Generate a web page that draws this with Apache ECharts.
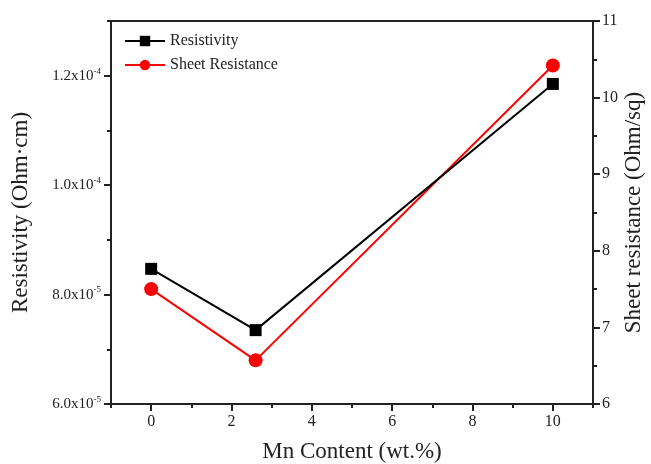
<!DOCTYPE html>
<html><head><meta charset="utf-8">
<script src="https://cdn.jsdelivr.net/npm/echarts@6/dist/echarts.min.js"></script>
<style>html,body{margin:0;padding:0;background:#fff}#c{width:651px;height:464px}</style>
</head><body><div id="c"></div>
<script>
const mnContent = [0, 2.6, 10];
const resistivity = [8.47e-5, 7.35e-5, 1.185e-4];
const sheetResistance = [7.5, 6.57, 10.42];
const xMajorTicks = [0, 2, 4, 6, 8, 10];
const xMinorTicks = [-1, 1, 3, 5, 7, 9, 11];
const leftMajorTicks = [6e-5, 8e-5, 1.0e-4, 1.2e-4];
const leftMinorTicks = [7e-5, 9e-5, 1.1e-4, 1.3e-4];
const rightMajorTicks = [6, 7, 8, 9, 10, 11];
const rightMinorTicks = [6.5, 7.5, 8.5, 9.5, 10.5];

const FONT = '"Liberation Serif", "Times New Roman", serif';
const AX = '#222';
const chart = echarts.init(document.getElementById('c'), null, {renderer: 'canvas'});

function sciLabel(v) {
  const e = Math.floor(Math.log10(v) + 1e-9);
  const m = (v / Math.pow(10, e)).toFixed(1);
  return '{b|' + m + 'x10}{s|' + e + '}';
}
const richSci = {
  b: {fontFamily: FONT, fontSize: 15, color: '#222'},
  s: {fontFamily: FONT, fontSize: 9, color: '#222', padding: [0, 0, 9, 0]}
};

const xBase = {type: 'value', min: -1, max: 11, gridIndex: 0, position: 'bottom'};
const leftBase = {type: 'value', min: 6e-5, max: 1.3e-4, position: 'left'};
const rightBase = {type: 'value', min: 6, max: 11, position: 'right'};

chart.setOption({
  backgroundColor: '#fff',
  animation: false,
  grid: {left: 111, right: 58, top: 21, bottom: 60, outerBoundsMode: 'none', containLabel: false,
         show: true, borderColor: AX, borderWidth: 2, backgroundColor: 'transparent'},
  legend: {
    orient: 'vertical', left: 119, top: 28, itemWidth: 40, itemHeight: 13, itemGap: 8,
    textStyle: {fontFamily: FONT, fontSize: 16, color: '#222'},
    data: ['Resistivity', 'Sheet Resistance']
  },
  xAxis: [
    Object.assign({}, xBase, {
      name: 'Mn Content (wt.%)', nameLocation: 'middle', nameGap: 36, nameMoveOverlap: false,
      nameTextStyle: {fontFamily: FONT, fontSize: 23, color: '#222'},
      axisLine: {show: true, onZero: false, lineStyle: {color: AX, width: 2}},
      axisTick: {show: true, customValues: xMajorTicks, length: 7, inside: false, lineStyle: {color: AX, width: 2}},
      axisLabel: {customValues: xMajorTicks, fontFamily: FONT, fontSize: 16, color: '#222', margin: 10},
      splitLine: {show: false}
    }),
    Object.assign({}, xBase, {
      axisLine: {show: false, onZero: false},
      axisTick: {show: true, customValues: xMinorTicks, length: 4, lineStyle: {color: AX, width: 2}},
      axisLabel: {show: false},
      splitLine: {show: false}
    })
  ],
  yAxis: [
    Object.assign({}, leftBase, {
      name: 'Resistivity (Ohm\u00b7cm)', nameLocation: 'middle', nameGap: 79, nameRotate: 90, nameMoveOverlap: false,
      nameTextStyle: {fontFamily: FONT, fontSize: 23, color: '#222'},
      axisLine: {show: true, onZero: false, lineStyle: {color: AX, width: 2}},
      axisTick: {show: true, customValues: leftMajorTicks, length: 7, lineStyle: {color: AX, width: 2}},
      axisLabel: {customValues: leftMajorTicks, formatter: sciLabel, rich: richSci, margin: 10},
      splitLine: {show: false}
    }),
    Object.assign({}, rightBase, {
      name: 'Sheet resistance (Ohm/sq)', nameLocation: 'middle', nameGap: 29, nameRotate: 90, nameMoveOverlap: false,
      nameTextStyle: {fontFamily: FONT, fontSize: 23, color: '#222'},
      axisLine: {show: true, onZero: false, lineStyle: {color: AX, width: 2}},
      axisTick: {show: true, customValues: rightMajorTicks, length: 7, lineStyle: {color: AX, width: 2}},
      axisLabel: {customValues: rightMajorTicks, fontFamily: FONT, fontSize: 16, color: '#222', margin: 9},
      splitLine: {show: false}
    }),
    Object.assign({}, leftBase, {
      axisLine: {show: false, onZero: false},
      axisTick: {show: true, customValues: leftMinorTicks, length: 4, lineStyle: {color: AX, width: 2}},
      axisLabel: {show: false}, splitLine: {show: false}
    }),
    Object.assign({}, rightBase, {
      axisLine: {show: false, onZero: false},
      axisTick: {show: true, customValues: rightMinorTicks, length: 4, lineStyle: {color: AX, width: 2}},
      axisLabel: {show: false}, splitLine: {show: false}
    })
  ],
  series: [
    {
      name: 'Resistivity', type: 'line', xAxisIndex: 0, yAxisIndex: 0,
      data: mnContent.map((x, i) => [x, resistivity[i]]),
      symbol: 'rect', symbolSize: 12, color: '#000',
      lineStyle: {color: '#000', width: 2}, itemStyle: {color: '#000'}, z: 3
    },
    {
      name: 'Sheet Resistance', type: 'line', xAxisIndex: 0, yAxisIndex: 1,
      data: mnContent.map((x, i) => [x, sheetResistance[i]]),
      symbol: 'circle', symbolSize: 14, color: '#f00',
      lineStyle: {color: '#f00', width: 2}, itemStyle: {color: '#f00'}, z: 2
    }
  ]
});
</script>
</body></html>
